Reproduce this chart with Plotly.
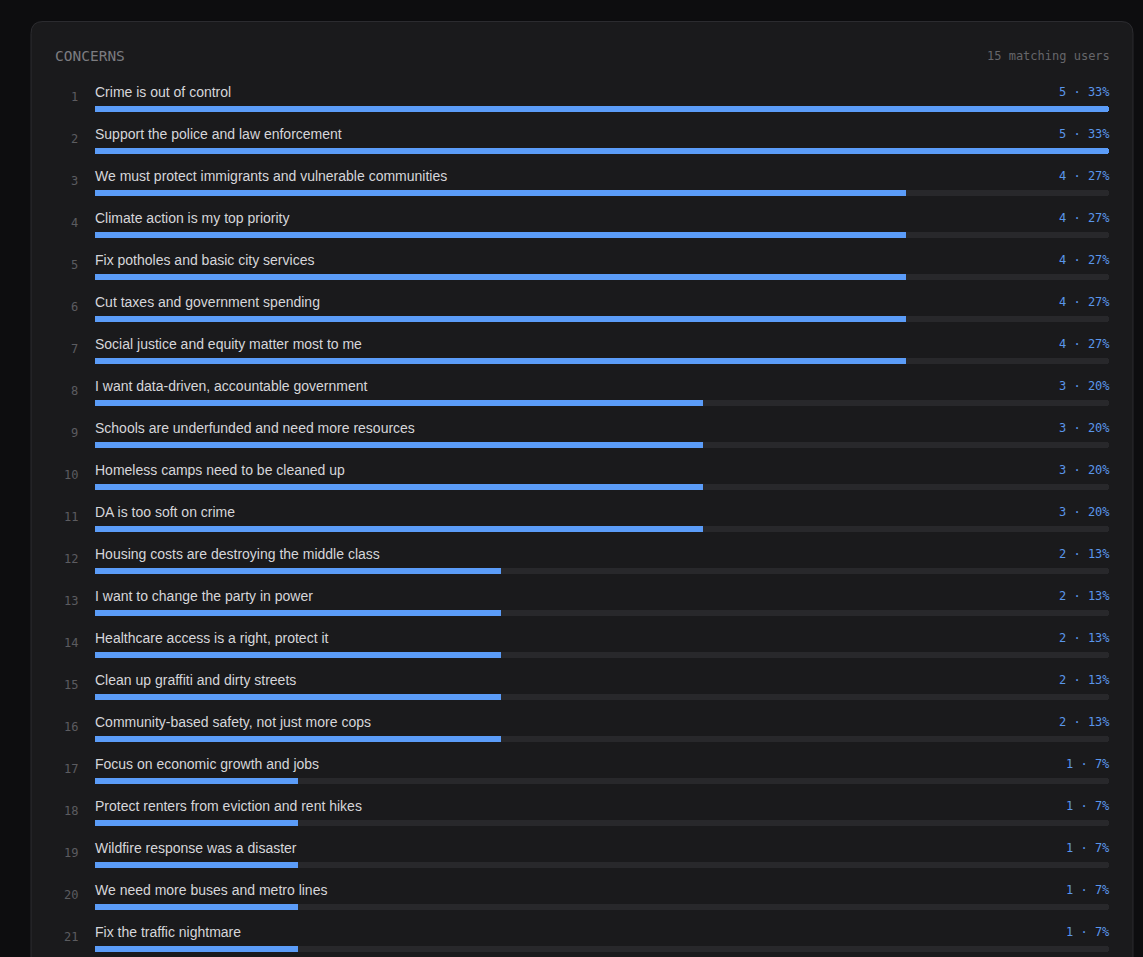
import plotly.graph_objects as go

W, H = 1143, 957

title = "CONCERNS"
total_users = 15
labels = [
    "Crime is out of control",
    "Support the police and law enforcement",
    "We must protect immigrants and vulnerable communities",
    "Climate action is my top priority",
    "Fix potholes and basic city services",
    "Cut taxes and government spending",
    "Social justice and equity matter most to me",
    "I want data-driven, accountable government",
    "Schools are underfunded and need more resources",
    "Homeless camps need to be cleaned up",
    "DA is too soft on crime",
    "Housing costs are destroying the middle class",
    "I want to change the party in power",
    "Healthcare access is a right, protect it",
    "Clean up graffiti and dirty streets",
    "Community-based safety, not just more cops",
    "Focus on economic growth and jobs",
    "Protect renters from eviction and rent hikes",
    "Wildfire response was a disaster",
    "We need more buses and metro lines",
    "Fix the traffic nightmare",
]
counts = [5, 5, 4, 4, 4, 4, 4, 3, 3, 3, 3, 2, 2, 2, 2, 2, 1, 1, 1, 1, 1]

ranks = list(range(1, len(labels) + 1))
max_count = max(counts)

BG = "#0d0d0f"
CARD = "#1a1a1c"
CARD_BORDER = "#2c2c30"
TRACK = "#28282b"
BLUE = "#5b9cf8"
LABEL_C = "#d6d6da"
RANK_C = "#5c5c60"
HEAD_C = "#7c7c80"
SUB_C = "#66666a"
VAL_C = "#5a96ea"

ROW_H = 42.0
BAR_Y0 = 109.0  # pixel center of first bar

def px_to_row(p):
    return 1 + (p - BAR_Y0) / ROW_H

x0_px, x1_px = 95, 1109

fig = go.Figure()
fig.add_trace(go.Bar(
    x=[max_count] * len(ranks), y=ranks, orientation="h",
    marker=dict(color=TRACK, line=dict(width=0)),
    width=6 / ROW_H, hoverinfo="skip", showlegend=False,
))
fig.add_trace(go.Bar(
    x=counts, y=ranks, orientation="h",
    marker=dict(color=BLUE, line=dict(width=0)),
    width=6 / ROW_H, showlegend=False,
    hovertemplate="%{x}<extra></extra>",
))

annotations = []
MONO = "DejaVu Sans Mono, monospace"
SANS = "Liberation Sans, Arial, sans-serif"
for r, lab, c in zip(ranks, labels, counts):
    annotations.append(dict(
        x=0, y=r - 17 / ROW_H, xref="x", yref="y", text=lab,
        showarrow=False, xanchor="left", yanchor="middle",
        font=dict(family=SANS, size=14, color=LABEL_C), xshift=-2,
    ))
    pct = round(c / total_users * 100)
    annotations.append(dict(
        x=max_count, y=r - 17 / ROW_H, xref="x", yref="y",
        text=f"{c} · {pct}%", showarrow=False, xanchor="right", yanchor="middle",
        font=dict(family=MONO, size=12, color=VAL_C), xshift=3,
    ))
    annotations.append(dict(
        x=80 / W, y=r - 12 / ROW_H, xref="paper", yref="y", text=str(r),
        showarrow=False, xanchor="right", yanchor="middle",
        font=dict(family=MONO, size=12, color=RANK_C),
    ))

annotations.append(dict(
    x=53 / W, y=1 - 56 / H, xref="paper", yref="paper", text=title,
    showarrow=False, xanchor="left", yanchor="middle",
    font=dict(family=MONO, size=14.5, color=HEAD_C),
))
annotations.append(dict(
    x=1112 / W, y=1 - 56 / H, xref="paper", yref="paper",
    text=f"{total_users} matching users",
    showarrow=False, xanchor="right", yanchor="middle",
    font=dict(family=MONO, size=12, color=SUB_C),
))

# card shape in pixel -> paper coords
L, T, R, B, rad = 31, 21.5, 1133, 1000, 12
def P(x, y):
    return f"{x / W:.6f},{1 - y / H:.6f}"
path = (
    f"M {P(L + rad, T)} L {P(R - rad, T)} Q {P(R, T)} {P(R, T + rad)} "
    f"L {P(R, B)} L {P(L, B)} L {P(L, T + rad)} Q {P(L, T)} {P(L + rad, T)} Z"
)

fig.update_layout(
    width=W, height=H,
    margin=dict(l=0, r=0, t=0, b=0),
    paper_bgcolor=BG, plot_bgcolor="rgba(0,0,0,0)",
    barmode="overlay", barcornerradius=3,
    bargap=0,
    xaxis=dict(range=[0, max_count], domain=[x0_px / W, x1_px / W],
               visible=False, fixedrange=True),
    yaxis=dict(range=[px_to_row(H), px_to_row(0)], domain=[0, 1],
               visible=False, fixedrange=True),
    shapes=[dict(type="path", path=path, xref="paper", yref="paper",
                 fillcolor=CARD, line=dict(color=CARD_BORDER, width=1),
                 layer="below")],
    annotations=annotations,
    showlegend=False,
)

fig.write_html("out.html")
